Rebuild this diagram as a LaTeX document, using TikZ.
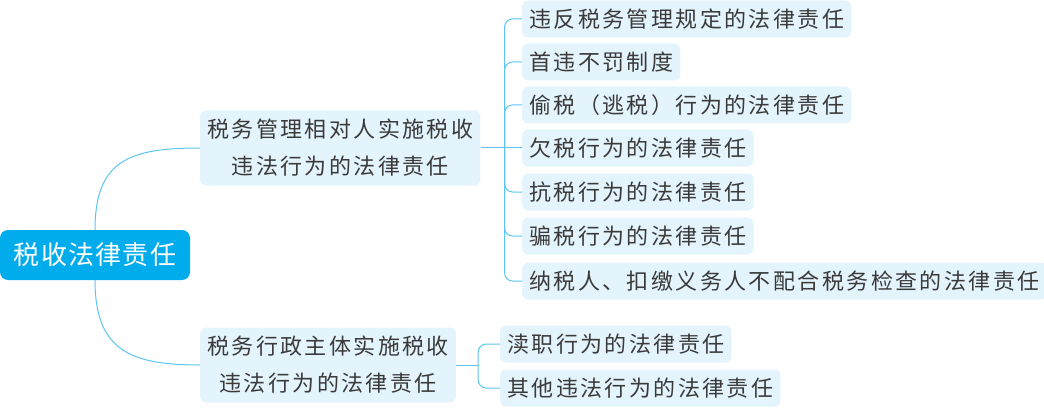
\documentclass[tikz,border=0pt]{standalone}
\usepackage{fontspec}
\newfontfamily\cjk[LetterSpace=11]{Noto Sans CJK SC}
\newfontfamily\cjkroot[LetterSpace=5]{Noto Sans CJK SC}
\usetikzlibrary{positioning,calc}
\definecolor{rootblue}{RGB}{0,172,236}
\definecolor{boxblue}{RGB}{227,244,252}
\definecolor{linkblue}{RGB}{92,196,240}
\definecolor{textgrey}{RGB}{58,58,58}

\begin{document}
\begin{tikzpicture}[x=1pt,y=1pt,
    rootbox/.style={fill=rootblue, text=white, rounded corners=8pt,
        minimum width=190pt, minimum height=50pt, inner sep=0pt,
        font=\cjkroot\fontsize{26}{30}\selectfont},
    topic/.style={fill=boxblue, text=textgrey, rounded corners=6pt,
        anchor=west, align=center, inner xsep=7pt, inner ysep=0pt,
        minimum height=75pt, font=\cjk\fontsize{22}{37}\selectfont},
    leaf/.style={fill=boxblue, text=textgrey, rounded corners=6pt,
        anchor=west, inner xsep=7pt, inner ysep=0pt,
        minimum height=37pt, font=\cjk\fontsize{22}{25}\selectfont},
    link/.style={draw=linkblue, line width=1pt}]
    \useasboundingbox (0,0) rectangle (1044,-409);
    % root and main branches
    \node[rootbox] (root) at (95,-255) {税收法律责任};
    \node[topic] (tax) at (200,-148) {税务管理相对人实施税收\\违法行为的法律责任};
    \node[topic] (admin) at (200,-365) {税务行政主体实施税收\\违法行为的法律责任};
    \draw[link] (root.north) .. controls +(0,70) and +(-70,0) .. (tax.west);
    \draw[link] (root.south) .. controls +(0,-70) and +(-70,0) .. (admin.west);
    % leaves of the first branch
    \node[leaf] (l1) at (522,-19) {违反税务管理规定的法律责任};
    \node[leaf] (l2) at (522,-62) {首违不罚制度};
    \node[leaf] (l3) at (522,-105) {偷税（逃税）行为的法律责任};
    \node[leaf] (l4) at (522,-148) {欠税行为的法律责任};
    \node[leaf] (l5) at (522,-192) {抗税行为的法律责任};
    \node[leaf] (l6) at (522,-236) {骗税行为的法律责任};
    \node[leaf] (l7) at (522,-281) {纳税人、扣缴义务人不配合税务检查的法律责任};
    \coordinate (j1) at ($(tax.east)+(24,0)$);
    \draw[link] (tax.east) -- (l4.west);
    \draw[link, rounded corners=8pt] (j1) |- (l1.west);
    \draw[link, rounded corners=8pt] (j1) |- (l2.west);
    \draw[link, rounded corners=8pt] (j1) |- (l3.west);
    \draw[link, rounded corners=8pt] (j1) |- (l5.west);
    \draw[link, rounded corners=8pt] (j1) |- (l6.west);
    \draw[link, rounded corners=8pt] (j1) |- (l7.west);
    % leaves of the second branch
    \node[leaf] (m1) at (500,-344) {渎职行为的法律责任};
    \node[leaf] (m2) at (500,-388) {其他违法行为的法律责任};
    \coordinate (j2) at ($(admin.east)+(22,0)$);
    \draw[link] (admin.east) -- (j2);
    \draw[link, rounded corners=8pt] (j2) |- (m1.west);
    \draw[link, rounded corners=8pt] (j2) |- (m2.west);
\end{tikzpicture}
\end{document}
